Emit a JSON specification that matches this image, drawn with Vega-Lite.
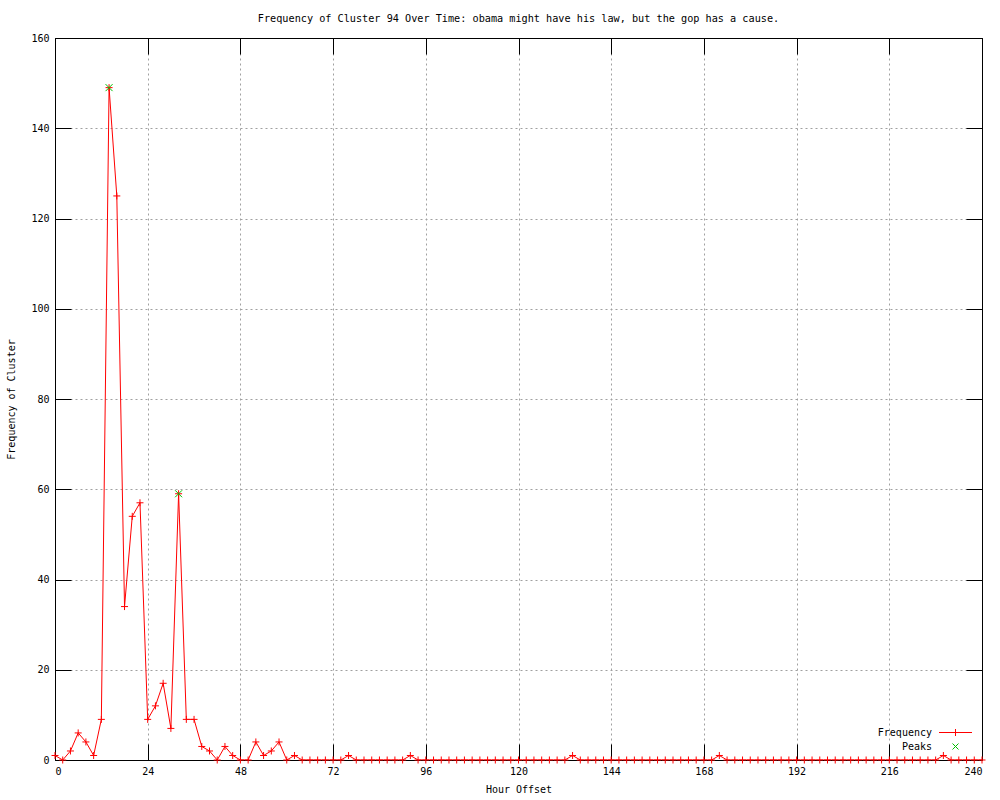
{
  "$schema": "https://vega.github.io/schema/vega-lite/v6.json",
  "width": 927,
  "height": 722,
  "autosize": "none",
  "padding": {"left": 55, "top": 38, "right": 18, "bottom": 40},
  "background": "white",
  "title": {
    "text": "Frequency of Cluster 94 Over Time: obama might have his law, but the gop has a cause.",
    "font": "DejaVu Sans Mono",
    "fontSize": 10.2,
    "fontWeight": "normal",
    "color": "black",
    "anchor": "middle",
    "offset": 9
  },
  "config": {
    "view": {"stroke": "black", "strokeWidth": 1},
    "axis": {
      "labelFont": "DejaVu Sans Mono",
      "labelFontSize": 10,
      "labelColor": "black",
      "titleFont": "DejaVu Sans Mono",
      "titleFontSize": 10,
      "titleFontWeight": "normal",
      "titleColor": "black",
      "domainColor": "black",
      "tickColor": "black",
      "tickSize": -16,
      "gridColor": "#a0a0a0",
      "gridDash": [2, 3],
      "gridOpacity": 1,
      "gridWidth": 1
    },
    "legend": {
      "labelFont": "DejaVu Sans Mono",
      "labelFontSize": 10,
      "labelColor": "black"
    }
  },
  "datasets": {
    "freq": [
      {"hour": 0, "freq": 1, "series": "Frequency"},
      {"hour": 2, "freq": 0, "series": "Frequency"},
      {"hour": 4, "freq": 2, "series": "Frequency"},
      {"hour": 6, "freq": 6, "series": "Frequency"},
      {"hour": 8, "freq": 4, "series": "Frequency"},
      {"hour": 10, "freq": 1, "series": "Frequency"},
      {"hour": 12, "freq": 9, "series": "Frequency"},
      {"hour": 14, "freq": 149, "series": "Frequency"},
      {"hour": 16, "freq": 125, "series": "Frequency"},
      {"hour": 18, "freq": 34, "series": "Frequency"},
      {"hour": 20, "freq": 54, "series": "Frequency"},
      {"hour": 22, "freq": 57, "series": "Frequency"},
      {"hour": 24, "freq": 9, "series": "Frequency"},
      {"hour": 26, "freq": 12, "series": "Frequency"},
      {"hour": 28, "freq": 17, "series": "Frequency"},
      {"hour": 30, "freq": 7, "series": "Frequency"},
      {"hour": 32, "freq": 59, "series": "Frequency"},
      {"hour": 34, "freq": 9, "series": "Frequency"},
      {"hour": 36, "freq": 9, "series": "Frequency"},
      {"hour": 38, "freq": 3, "series": "Frequency"},
      {"hour": 40, "freq": 2, "series": "Frequency"},
      {"hour": 42, "freq": 0, "series": "Frequency"},
      {"hour": 44, "freq": 3, "series": "Frequency"},
      {"hour": 46, "freq": 1, "series": "Frequency"},
      {"hour": 48, "freq": 0, "series": "Frequency"},
      {"hour": 50, "freq": 0, "series": "Frequency"},
      {"hour": 52, "freq": 4, "series": "Frequency"},
      {"hour": 54, "freq": 1, "series": "Frequency"},
      {"hour": 56, "freq": 2, "series": "Frequency"},
      {"hour": 58, "freq": 4, "series": "Frequency"},
      {"hour": 60, "freq": 0, "series": "Frequency"},
      {"hour": 62, "freq": 1, "series": "Frequency"},
      {"hour": 64, "freq": 0, "series": "Frequency"},
      {"hour": 66, "freq": 0, "series": "Frequency"},
      {"hour": 68, "freq": 0, "series": "Frequency"},
      {"hour": 70, "freq": 0, "series": "Frequency"},
      {"hour": 72, "freq": 0, "series": "Frequency"},
      {"hour": 74, "freq": 0, "series": "Frequency"},
      {"hour": 76, "freq": 1, "series": "Frequency"},
      {"hour": 78, "freq": 0, "series": "Frequency"},
      {"hour": 80, "freq": 0, "series": "Frequency"},
      {"hour": 82, "freq": 0, "series": "Frequency"},
      {"hour": 84, "freq": 0, "series": "Frequency"},
      {"hour": 86, "freq": 0, "series": "Frequency"},
      {"hour": 88, "freq": 0, "series": "Frequency"},
      {"hour": 90, "freq": 0, "series": "Frequency"},
      {"hour": 92, "freq": 1, "series": "Frequency"},
      {"hour": 94, "freq": 0, "series": "Frequency"},
      {"hour": 96, "freq": 0, "series": "Frequency"},
      {"hour": 98, "freq": 0, "series": "Frequency"},
      {"hour": 100, "freq": 0, "series": "Frequency"},
      {"hour": 102, "freq": 0, "series": "Frequency"},
      {"hour": 104, "freq": 0, "series": "Frequency"},
      {"hour": 106, "freq": 0, "series": "Frequency"},
      {"hour": 108, "freq": 0, "series": "Frequency"},
      {"hour": 110, "freq": 0, "series": "Frequency"},
      {"hour": 112, "freq": 0, "series": "Frequency"},
      {"hour": 114, "freq": 0, "series": "Frequency"},
      {"hour": 116, "freq": 0, "series": "Frequency"},
      {"hour": 118, "freq": 0, "series": "Frequency"},
      {"hour": 120, "freq": 0, "series": "Frequency"},
      {"hour": 122, "freq": 0, "series": "Frequency"},
      {"hour": 124, "freq": 0, "series": "Frequency"},
      {"hour": 126, "freq": 0, "series": "Frequency"},
      {"hour": 128, "freq": 0, "series": "Frequency"},
      {"hour": 130, "freq": 0, "series": "Frequency"},
      {"hour": 132, "freq": 0, "series": "Frequency"},
      {"hour": 134, "freq": 1, "series": "Frequency"},
      {"hour": 136, "freq": 0, "series": "Frequency"},
      {"hour": 138, "freq": 0, "series": "Frequency"},
      {"hour": 140, "freq": 0, "series": "Frequency"},
      {"hour": 142, "freq": 0, "series": "Frequency"},
      {"hour": 144, "freq": 0, "series": "Frequency"},
      {"hour": 146, "freq": 0, "series": "Frequency"},
      {"hour": 148, "freq": 0, "series": "Frequency"},
      {"hour": 150, "freq": 0, "series": "Frequency"},
      {"hour": 152, "freq": 0, "series": "Frequency"},
      {"hour": 154, "freq": 0, "series": "Frequency"},
      {"hour": 156, "freq": 0, "series": "Frequency"},
      {"hour": 158, "freq": 0, "series": "Frequency"},
      {"hour": 160, "freq": 0, "series": "Frequency"},
      {"hour": 162, "freq": 0, "series": "Frequency"},
      {"hour": 164, "freq": 0, "series": "Frequency"},
      {"hour": 166, "freq": 0, "series": "Frequency"},
      {"hour": 168, "freq": 0, "series": "Frequency"},
      {"hour": 170, "freq": 0, "series": "Frequency"},
      {"hour": 172, "freq": 1, "series": "Frequency"},
      {"hour": 174, "freq": 0, "series": "Frequency"},
      {"hour": 176, "freq": 0, "series": "Frequency"},
      {"hour": 178, "freq": 0, "series": "Frequency"},
      {"hour": 180, "freq": 0, "series": "Frequency"},
      {"hour": 182, "freq": 0, "series": "Frequency"},
      {"hour": 184, "freq": 0, "series": "Frequency"},
      {"hour": 186, "freq": 0, "series": "Frequency"},
      {"hour": 188, "freq": 0, "series": "Frequency"},
      {"hour": 190, "freq": 0, "series": "Frequency"},
      {"hour": 192, "freq": 0, "series": "Frequency"},
      {"hour": 194, "freq": 0, "series": "Frequency"},
      {"hour": 196, "freq": 0, "series": "Frequency"},
      {"hour": 198, "freq": 0, "series": "Frequency"},
      {"hour": 200, "freq": 0, "series": "Frequency"},
      {"hour": 202, "freq": 0, "series": "Frequency"},
      {"hour": 204, "freq": 0, "series": "Frequency"},
      {"hour": 206, "freq": 0, "series": "Frequency"},
      {"hour": 208, "freq": 0, "series": "Frequency"},
      {"hour": 210, "freq": 0, "series": "Frequency"},
      {"hour": 212, "freq": 0, "series": "Frequency"},
      {"hour": 214, "freq": 0, "series": "Frequency"},
      {"hour": 216, "freq": 0, "series": "Frequency"},
      {"hour": 218, "freq": 0, "series": "Frequency"},
      {"hour": 220, "freq": 0, "series": "Frequency"},
      {"hour": 222, "freq": 0, "series": "Frequency"},
      {"hour": 224, "freq": 0, "series": "Frequency"},
      {"hour": 226, "freq": 0, "series": "Frequency"},
      {"hour": 228, "freq": 0, "series": "Frequency"},
      {"hour": 230, "freq": 1, "series": "Frequency"},
      {"hour": 232, "freq": 0, "series": "Frequency"},
      {"hour": 234, "freq": 0, "series": "Frequency"},
      {"hour": 236, "freq": 0, "series": "Frequency"},
      {"hour": 238, "freq": 0, "series": "Frequency"},
      {"hour": 240, "freq": 0, "series": "Frequency"}
    ],
    "peaks": [
      {"hour": 14, "freq": 149, "series": "Peaks"},
      {"hour": 32, "freq": 59, "series": "Peaks"}
    ]
  },
  "layer": [
    {
      "data": {"name": "freq"},
      "mark": {"type": "line", "strokeWidth": 1, "clip": true},
      "encoding": {
        "x": {
          "field": "hour", "type": "quantitative",
          "scale": {"domain": [0, 240], "nice": false, "zero": false},
          "axis": {"values": [0, 24, 48, 72, 96, 120, 144, 168, 192, 216, 240], "title": "Hour Offset", "labelPadding": 22, "titlePadding": 8, "grid": true}
        },
        "y": {
          "field": "freq", "type": "quantitative",
          "scale": {"domain": [0, 160], "nice": false},
          "axis": {"values": [0, 20, 40, 60, 80, 100, 120, 140, 160], "title": "Frequency of Cluster", "labelPadding": 22, "titlePadding": 14, "grid": true}
        },
        "color": {
          "field": "series", "type": "nominal",
          "scale": {"domain": ["Frequency", "Peaks"], "range": ["#ff0000", "#00c000"]},
          "legend": {
            "orient": "bottom-right",
            "title": null,
            "values": ["Frequency", "Peaks"],
            "symbolSize": 100,
            "symbolStrokeWidth": 1,
            "symbolFillColor": "transparent",
            "symbolOpacity": 1,
            "labelAlign": "right",
            "labelOffset": -29,
            "rowPadding": 3,
            "offset": 8,
            "encode": {
              "symbols": {
                "update": {
                  "shape": {"signal": "datum.value === 'Frequency' ? 'M-3.3,0H3.3M0,-0.7V0.7' : 'M-0.6,-0.6L0.6,0.6M-0.6,0.6L0.6,-0.6'"},
                  "stroke": {"signal": "datum.value === 'Frequency' ? '#ff0000' : '#00c000'"},
                  "fill": {"value": "transparent"},
                  "opacity": {"value": 1},
                  "strokeOpacity": {"value": 1}
                }
              }
            }
          }
        }
      }
    },
    {
      "data": {"name": "freq"},
      "mark": {"type": "point", "shape": "M-1,0H1M0,-1V1", "filled": false, "size": 49, "strokeWidth": 1, "opacity": 1},
      "encoding": {
        "x": {"field": "hour", "type": "quantitative", "axis": null},
        "y": {"field": "freq", "type": "quantitative", "axis": null},
        "color": {"field": "series", "type": "nominal"}
      }
    },
    {
      "data": {"name": "peaks"},
      "mark": {"type": "point", "shape": "M-1,-1L1,1M-1,1L1,-1", "filled": false, "size": 49, "strokeWidth": 1, "opacity": 1},
      "encoding": {
        "x": {"field": "hour", "type": "quantitative",
          "axis": {"orient": "top", "values": [0, 24, 48, 72, 96, 120, 144, 168, 192, 216, 240], "labels": false, "title": null, "grid": false, "domain": true}},
        "y": {"field": "freq", "type": "quantitative",
          "axis": {"orient": "right", "values": [0, 20, 40, 60, 80, 100, 120, 140, 160], "labels": false, "title": null, "grid": false, "domain": true}},
        "color": {"field": "series", "type": "nominal"}
      }
    }
  ],
  "resolve": {"axis": {"x": "independent", "y": "independent"}}
}
